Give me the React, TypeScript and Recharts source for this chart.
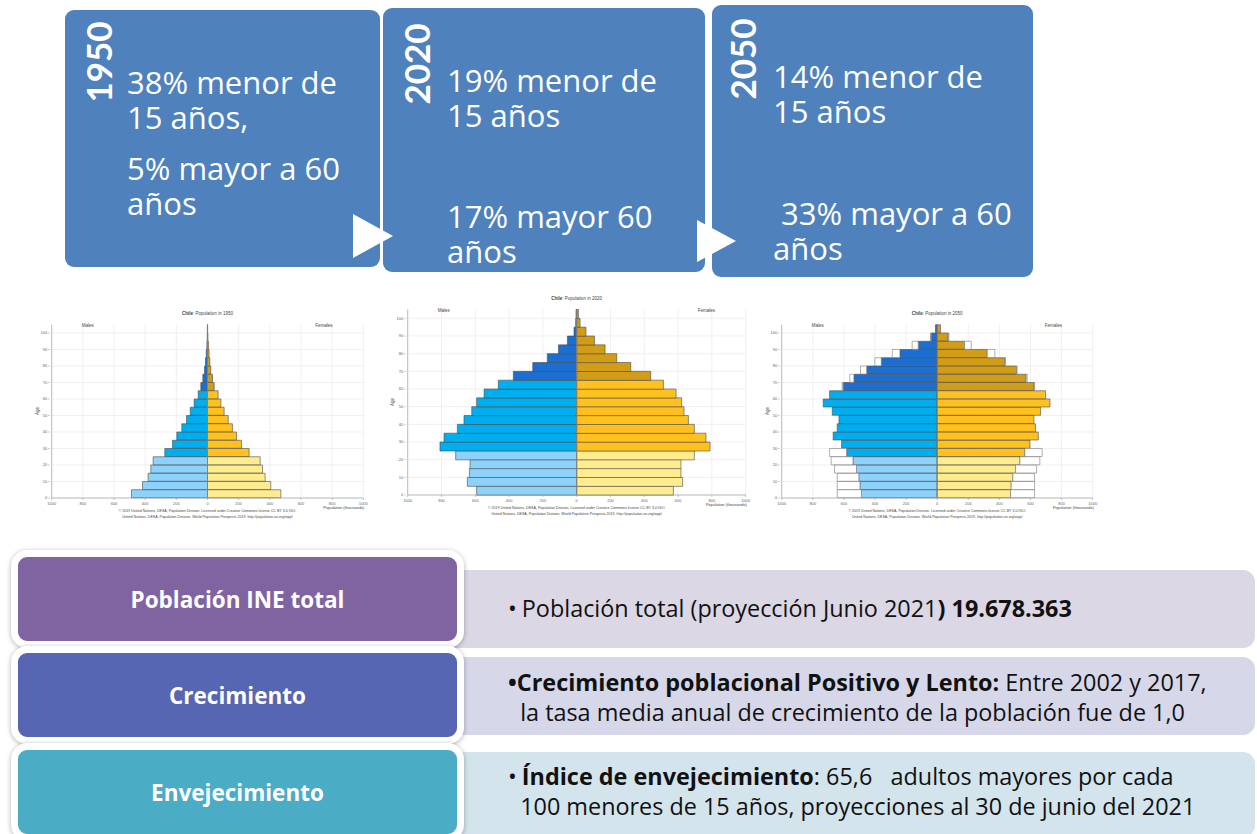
import React from 'react';
import { BarChart, Bar, XAxis, YAxis, CartesianGrid, Cell, ReferenceLine } from 'recharts';

// age groups, bottom to top
const AGES = ['0-4', '5-9', '10-14', '15-19', '20-24', '25-29', '30-34', '35-39', '40-44', '45-49', '50-54',
  '55-59', '60-64', '65-69', '70-74', '75-79', '80-84', '85-89', '90-94', '95-99', '100+'];
const AGE_TICKS = [0, 10, 20, 30, 40, 50, 60, 70, 80, 90, 100];
const POP_TICKS = [-1000, -800, -600, -400, -200, 0, 200, 400, 600, 800, 1000];

// population in thousands
const MALE_1950 = [488, 417, 381, 364, 349, 274, 225, 197, 165, 135, 111, 86, 60, 43, 30, 19, 13, 8, 4, 2, 1];
const FEMALE_1950 = [471, 406, 370, 353, 338, 267, 218, 186, 160, 133, 107, 86, 68, 43, 32, 21, 15, 10, 6, 3, 1];
const MALE_2020 = [592, 647, 635, 631, 716, 809, 785, 706, 667, 621, 592, 548, 464, 375, 260, 174, 108, 55, 16, 6, 4];
const FEMALE_2020 = [572, 627, 617, 617, 696, 789, 765, 696, 661, 635, 621, 588, 513, 438, 320, 237, 168, 105, 55, 20, 10];
const MALE_2050 = [487, 497, 504, 519, 542, 583, 615, 669, 643, 632, 675, 733, 692, 605, 536, 454, 360, 240, 122, 39, 11];
const FEMALE_2050 = [472, 476, 487, 504, 532, 564, 596, 650, 632, 622, 665, 725, 697, 622, 572, 510, 435, 322, 176, 71, 21];
// outline (upper projection) drawn behind the 2050 bars
const MALE_2050_HIGH = [643, 643, 643, 660, 682, 692, 615, 669, 643, 632, 675, 733, 692, 611, 562, 493, 401, 289, 161, 43, 11];
const FEMALE_2050_HIGH = [626, 626, 626, 639, 660, 675, 596, 650, 632, 622, 665, 725, 697, 626, 579, 514, 439, 371, 219, 75, 21];

const MALE_COLORS = ['#8DD2FA', '#00AEEF', '#1C6FD1'];
const FEMALE_COLORS = ['#FFEC8F', '#FFC11F', '#D19C18'];
const band = (i: number) => (i < 5 ? 0 : i < 13 ? 1 : 2);

const ARIAL = '"Liberation Sans", Arial, sans-serif';
const tiny = { fontFamily: ARIAL, color: '#444', position: 'absolute' as const, whiteSpace: 'nowrap' as const };

type PyramidProps = {
  year: string;
  male: number[];
  female: number[];
  maleHigh?: number[];
  femaleHigh?: number[];
  left: number;
  top: number;
  boxW: number;
  boxH: number;
  chartW: number;
  plotL: number;
  plotR: number;
  plotT: number;
  plotB: number;
};

const Pyramid: React.FC<PyramidProps> = ({ year, male, female, maleHigh, femaleHigh, left, top, boxW, boxH, chartW, plotL, plotR, plotT, plotB }) => {
  const rows = AGES.map((age, i) => ({
    age,
    m: -male[i],
    f: female[i],
    mx: maleHigh ? -Math.max(maleHigh[i] - male[i], 0) : 0,
    fx: femaleHigh ? Math.max(femaleHigh[i] - female[i], 0) : 0,
  }));
  const mid = (plotL + plotR) / 2;
  const bandH = (plotB - plotT) / AGES.length;
  const tick = { fontSize: 4, fill: '#666', fontFamily: ARIAL };

  // age ticks sit on the lower edge of every second band (0, 10, 20 ...)
  const ageTick = (props: any) => {
    const { x, y, payload } = props;
    const idx = AGES.indexOf(payload.value);
    if (idx % 2 !== 0) return <g />;
    const yy = y + bandH / 2;
    return (
      <g>
        <line x1={x - 1.5} x2={x} y1={yy} y2={yy} stroke="#999" strokeWidth={0.6} />
        <text x={x - 2.5} y={yy} dy={1.4} textAnchor="end" fontSize={4} fill="#666" fontFamily={ARIAL}>
          {AGE_TICKS[idx / 2]}
        </text>
      </g>
    );
  };

  return (
    <div style={{ position: 'absolute', left, top, width: boxW, height: boxH, overflow: 'hidden' }}>
      <BarChart
        layout="vertical"
        width={chartW}
        height={boxH}
        data={rows}
        stackOffset="sign"
        barCategoryGap={0}
        margin={{ top: plotT, right: chartW - plotR, left: plotL - 12, bottom: boxH - plotB - 10 }}
      >
        <CartesianGrid
          stroke="#e6e6e6"
          strokeWidth={0.6}
          horizontalCoordinatesGenerator={({ offset }: any) => AGE_TICKS.map((t) => offset.top + offset.height * (1 - t / 105))}
        />
        <XAxis
          type="number"
          domain={[-1000, 1000]}
          ticks={POP_TICKS}
          tickFormatter={(v: number) => String(Math.abs(v))}
          tick={tick}
          tickSize={2}
          height={10}
          stroke="#999"
          strokeWidth={0.6}
          interval={0}
        />
        <YAxis
          type="category"
          dataKey="age"
          reversed
          width={12}
          tickLine={false}
          tickSize={0}
          tick={ageTick}
          interval={0}
          stroke="#999"
          strokeWidth={0.6}
        />
        <Bar dataKey="m" stackId="s" isAnimationActive={false} stroke="#4a4a4a" strokeWidth={0.6}>
          {rows.map((_, i) => <Cell key={i} fill={MALE_COLORS[band(i)]} />)}
        </Bar>
        <Bar dataKey="f" stackId="s" isAnimationActive={false} stroke="#4a4a4a" strokeWidth={0.6}>
          {rows.map((_, i) => <Cell key={i} fill={FEMALE_COLORS[band(i)]} />)}
        </Bar>
        {maleHigh && <Bar dataKey="mx" stackId="s" isAnimationActive={false} fill="#fff" stroke="#7a7a7a" strokeWidth={0.6} />}
        {femaleHigh && <Bar dataKey="fx" stackId="s" isAnimationActive={false} fill="#fff" stroke="#7a7a7a" strokeWidth={0.6} />}
        <ReferenceLine x={0} stroke="#888" strokeWidth={0.8} />
      </BarChart>
      <div style={{ ...tiny, left: mid, top: plotT - 14, transform: 'translateX(-50%)', fontSize: 4.5 }}>
        <b>Chile</b>: Population in {year}
      </div>
      <div style={{ ...tiny, left: plotL + 30, top: plotT - 2, fontSize: 4.5 }}>Males</div>
      <div style={{ ...tiny, left: plotR - 48, top: plotT - 2, fontSize: 4.5 }}>Females</div>
      <div style={{ ...tiny, left: 7, top: (plotT + plotB) / 2, transform: 'translate(-50%,-50%) rotate(-90deg)', fontSize: 4.5 }}>Age</div>
      <div style={{ ...tiny, left: plotR - 40, top: plotB + 7, fontSize: 4 }}>Population (thousands)</div>
      <div style={{ ...tiny, left: mid, top: plotB + 10, transform: 'translateX(-50%)', fontSize: 3.6, textAlign: 'center', lineHeight: '6px' }}>
        © 2019 United Nations, DESA, Population Division. Licensed under Creative Commons license CC BY 3.0 IGO.
        <br />
        United Nations, DESA, Population Division. World Population Prospects 2019. http://population.un.org/wpp/
      </div>
    </div>
  );
};

const BLUE = '#4F81BD';
const boxText = { position: 'absolute' as const, color: '#fff', fontFamily: '"Open Sans", sans-serif', fontSize: 31, lineHeight: '35px', whiteSpace: 'pre' as const };
const yearText = {
  position: 'absolute' as const, color: '#fff', fontFamily: 'Lato, sans-serif', fontWeight: 700, fontSize: 35,
  transform: 'translate(-50%,-50%) rotate(-90deg)', whiteSpace: 'nowrap' as const, lineHeight: 1,
};

const leftBox = (top: number, bg: string, label: string) => (
  <div
    style={{
      position: 'absolute', left: 11, top, width: 453, height: 98, boxSizing: 'border-box', border: '7px solid #fff',
      borderRadius: 16, background: bg, boxShadow: '0 1px 5px rgba(0,0,0,0.3)', display: 'flex', alignItems: 'center',
      justifyContent: 'center', color: '#fff', fontFamily: '"Open Sans", sans-serif', fontWeight: 700, fontSize: 22.5,
    }}
  >
    {label}
  </div>
);

const rightBox = (top: number, height: number, bg: string) => (
  <div style={{ position: 'absolute', left: 440, top, width: 815, height, borderRadius: 12, background: bg }} />
);

const rightText = { position: 'absolute' as const, left: 508, fontFamily: '"Open Sans", sans-serif', fontSize: 23.4, lineHeight: '30px', color: '#111', whiteSpace: 'pre' as const };
const dot = { marginRight: 5 };

export default function App() {
  return (
    <div style={{ position: 'fixed', left: 0, top: 0, width: 1257, height: 834, overflow: 'hidden', background: '#fff' }}>
      {/* timeline boxes */}
      <div style={{ position: 'absolute', left: 65, top: 10, width: 315, height: 257, background: BLUE, borderRadius: 9 }} />
      <div style={{ position: 'absolute', left: 383, top: 8, width: 322, height: 264, background: BLUE, borderRadius: 9 }} />
      <div style={{ position: 'absolute', left: 712, top: 5, width: 321, height: 272, background: BLUE, borderRadius: 9 }} />
      <div style={{ position: 'absolute', left: 353, top: 214, width: 0, height: 0, borderTop: '22px solid transparent', borderBottom: '22px solid transparent', borderLeft: '40px solid #fff' }} />
      <div style={{ position: 'absolute', left: 697, top: 220, width: 0, height: 0, borderTop: '21px solid transparent', borderBottom: '21px solid transparent', borderLeft: '39px solid #fff' }} />

      <div style={{ ...yearText, left: 98, top: 62 }}>1950</div>
      <div style={{ ...yearText, left: 416, top: 64 }}>2020</div>
      <div style={{ ...yearText, left: 742, top: 59 }}>2050</div>

      <div style={{ ...boxText, left: 127, top: 65 }}>{'38% menor de\n15 años,'}</div>
      <div style={{ ...boxText, left: 127, top: 151 }}>{'5% mayor a 60\naños'}</div>
      <div style={{ ...boxText, left: 447, top: 63 }}>{'19% menor de\n15 años'}</div>
      <div style={{ ...boxText, left: 447, top: 199 }}>{'17% mayor 60\naños'}</div>
      <div style={{ ...boxText, left: 773, top: 59 }}>{'14% menor de\n15 años'}</div>
      <div style={{ ...boxText, left: 773, top: 196 }}>{' 33% mayor a 60\naños'}</div>

      {/* population pyramids */}
      <Pyramid year="1950" male={MALE_1950} female={FEMALE_1950} left={30} top={300} boxW={350} boxH={225} chartW={350} plotL={21.7} plotR={333.3} plotT={24.75} plotB={198} />
      <Pyramid year="2020" male={MALE_2020} female={FEMALE_2020} left={385} top={290} boxW={372} boxH={235} chartW={372} plotL={22.7} plotR={360.7} plotT={19.5} plotB={205} />
      <Pyramid year="2050" male={MALE_2050} female={FEMALE_2050} maleHigh={MALE_2050_HIGH} femaleHigh={FEMALE_2050_HIGH} left={760} top={300} boxW={340} boxH={225} chartW={340} plotL={21.7} plotR={332.7} plotT={24.75} plotB={198} />

      {/* summary rows */}
      {rightBox(570, 78, '#DCD7E4')}
      {rightBox(657, 78, '#D6D8E9')}
      {rightBox(752, 85, '#D3E4EC')}
      {leftBox(550, '#8064A2', 'Población INE total')}
      {leftBox(646, '#5666B2', 'Crecimiento')}
      {leftBox(743, '#4BACC6', 'Envejecimiento')}

      <div style={{ ...rightText, top: 593 }}>
        <span style={dot}>•</span>Población total (proyección Junio 2021<b>) 19.678.363</b>
      </div>
      <div style={{ ...rightText, top: 667 }}>
        <b>•Crecimiento poblacional Positivo y Lento:</b> Entre 2002 y 2017,
        <br />
        {'  la tasa media anual de crecimiento de la población fue de 1,0'}
      </div>
      <div style={{ ...rightText, top: 761 }}>
        <span style={dot}>•</span><b>Índice de envejecimiento</b>{': 65,6   adultos mayores por cada'}
        <br />
        {'  100 menores de 15 años, proyecciones al 30 de junio del 2021'}
      </div>
    </div>
  );
}
